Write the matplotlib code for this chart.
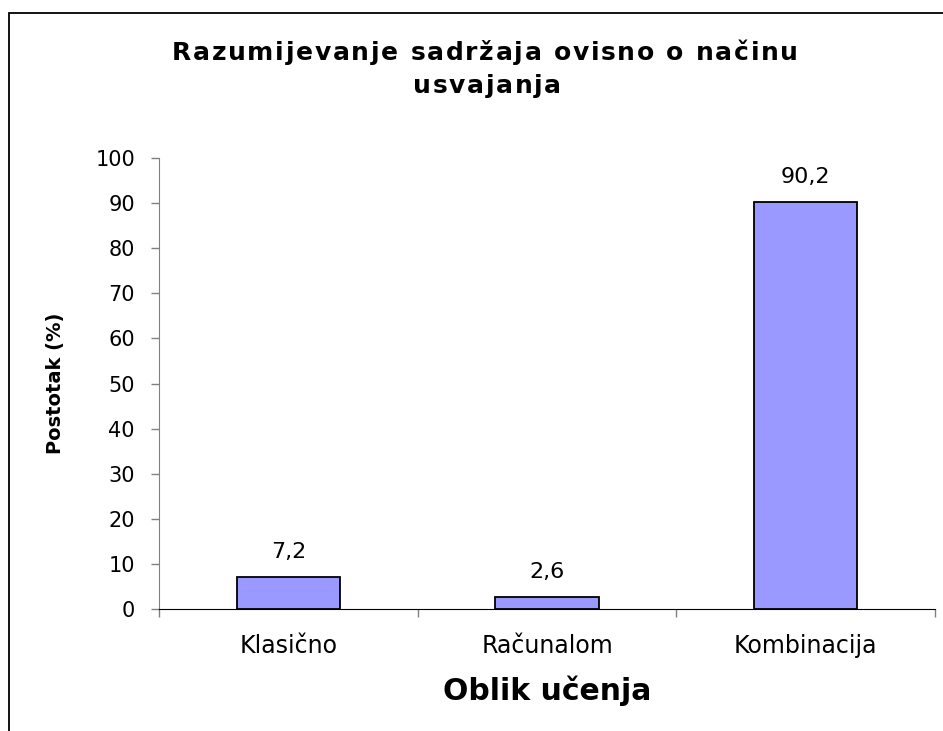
import matplotlib
matplotlib.use('Agg')
import matplotlib.pyplot as plt
from matplotlib.patches import Rectangle

categories = ['Klasično', 'Računalom', 'Kombinacija']
values = [7.2, 2.6, 90.2]
value_labels = ['7,2', '2,6', '90,2']
yticks = [0, 10, 20, 30, 40, 50, 60, 70, 80, 90, 100]
title_lines = ['Razumijevanje sadržaja ovisno o načinu', 'usvajanja']

plt.rcParams['font.family'] = ['DejaVu Sans']

W, H = 943, 731
fig = plt.figure(figsize=(W / 100, H / 100), dpi=100)
# chart area border (only left and top visible in the source)
fig.patches.append(Rectangle((9 / W, -0.1), 1.2, 1.1 - 13 / H, transform=fig.transFigure,
                             fill=False, edgecolor='black', linewidth=1.3))


def spaced_text(fig, s, xc, y, spacing, **kw):
    # draw a line of text char by char with extra letter spacing (pixels)
    r = fig.canvas.get_renderer()
    widths = []
    for ch in s:
        t = fig.text(0, 0, ch, **kw)
        widths.append(t.get_window_extent(r).width if ch != ' ' else None)
        t.remove()
    sp = fig.text(0, 0, 'a a', **kw)
    wa = fig.text(0, 0, 'aa', **kw)
    space_w = sp.get_window_extent(r).width - wa.get_window_extent(r).width
    sp.remove()
    wa.remove()
    widths = [space_w if w is None else w for w in widths]
    total = sum(widths) + spacing * (len(s) - 1)
    x = xc - total / 2
    for ch, w in zip(s, widths):
        if ch != ' ':
            fig.text(x / W, 1 - y / H, ch, ha='left', va='baseline', **kw)
        x += w + spacing


ax = fig.add_axes([159 / W, 1 - 609 / H, (935 - 159) / W, (609 - 158) / H])
x = range(len(categories))
ax.bar(x, values, width=0.4, color='#9999FF', edgecolor='black', linewidth=1.3, zorder=3)

for i, v in enumerate(values):
    ax.annotate(value_labels[i], (i, v), xytext=(0, 13.7), textcoords='offset points',
                ha='center', va='baseline', fontsize=16)

ax.set_xlim(-0.5, len(categories) - 0.5)
ax.set_ylim(0, 100)
ax.set_yticks(yticks)
ax.tick_params(axis='y', length=5.8, width=1, color='#808080', labelsize=15, pad=11.5)
ax.set_xticks([i - 0.5 for i in range(len(categories) + 1)])
ax.set_xticklabels([])
ax.tick_params(axis='x', length=5.8, width=1, color='#808080')
ax.set_xticks(list(x), minor=True)
ax.set_xticklabels(categories, minor=True)
ax.tick_params(axis='x', which='minor', length=0, labelsize=17, pad=18)

for s in ['top', 'right']:
    ax.spines[s].set_visible(False)
ax.spines['left'].set_color('#808080')
ax.spines['bottom'].set_color('black')

ax.set_ylabel('Postotak (%)', fontsize=14, fontweight='bold')
ax.yaxis.set_label_coords(-94 / 776, 0.5)
ax.set_xlabel('Oblik učenja', fontsize=21.5, fontweight='bold', va='top')
ax.xaxis.set_label_coords(0.5, -67 / 451)

spaced_text(fig, title_lines[0], 485, 60, 1.7, fontsize=18, fontweight='bold')
spaced_text(fig, title_lines[1], 487, 93, 1.7, fontsize=18, fontweight='bold')

fig.savefig('out.png', dpi=100)
